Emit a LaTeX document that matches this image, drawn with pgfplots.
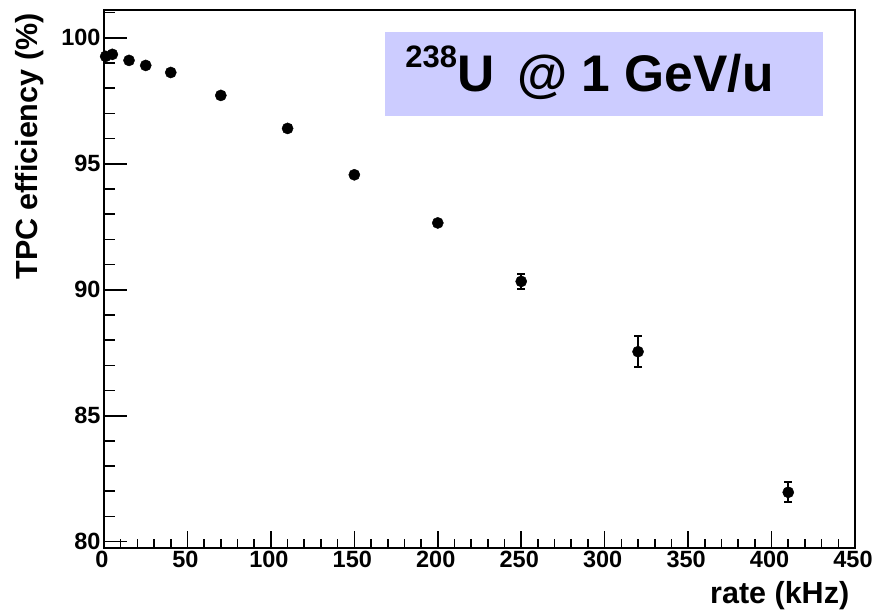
\documentclass[border=0pt]{standalone}
\usepackage{fontspec}
\setmainfont{Liberation Sans}
\usepackage{pgfplots}
\pgfplotsset{compat=1.18}
\definecolor{boxblue}{HTML}{CCCCFF}

% TPC efficiency versus rate: x, y, y-error
\pgfplotstableread{
x    y      ey
1    99.26  0.05
5    99.34  0.05
15   99.10  0.05
25   98.90  0.05
40   98.62  0.05
70   97.71  0.05
110  96.40  0.05
150  94.56  0.08
200  92.65  0.10
250  90.33  0.30
320  87.54  0.62
410  81.96  0.40
}\efftable

\pgfplotsset{
  rootframe/.style={
    at={(0,0)}, anchor=south west,
    scale only axis, width=751pt, height=538pt,
    xmin=0, xmax=450, ymin=79.75, ymax=101.1,
    axis line style={black, line width=1.5pt},
    tick align=inside,
    every tick/.style={black, line width=1.6pt},
    /pgf/number format/assume math mode=true,
    ticklabel style={font=\fontsize{23.5}{27}\selectfont\bfseries},
  },
}

\begin{document}
\begin{tikzpicture}
\useasboundingbox (-104pt,-67pt) rectangle (769pt,548pt);

% y ticks (longer ticks, as for the shorter axis)
\begin{axis}[rootframe,
  xtick=\empty,
  ytick={80,85,90,95,100},
  minor ytick={80,81,...,101},
  ytick pos=left,
  major tick length=22.5pt, minor tick length=11pt,
]
\end{axis}

% x ticks, data and labels
\begin{axis}[rootframe,
  ytick=\empty,
  xtick={0,50,...,450},
  minor xtick={0,10,...,450},
  xtick pos=bottom,
  xticklabel style={xshift=-2pt},
  major tick length=17pt, minor tick length=9pt,
  xlabel={rate (kHz)},
  xlabel style={at={(axis description cs:0.997,-0.104)}, anchor=base east,
    font=\fontsize{30.5}{34}\selectfont\bfseries},
  ylabel={TPC efficiency (\%)},
  ylabel style={at={(axis description cs:-0.0892,1)}, anchor=base east,
    font=\fontsize{30.5}{34}\selectfont\bfseries},
  clip=false,
]
\fill[boxblue] (rel axis cs:0.374,0.803) rectangle (rel axis cs:0.957,0.959);
\node[anchor=base west, inner sep=0pt, font=\fontsize{51.5}{56}\selectfont\bfseries]
  at (rel axis cs:0.401,0.8476)
  {\raisebox{0.48em}{\fontsize{31}{34}\selectfont\bfseries 238}U\hspace{0.45em}@ 1 GeV/u};

\addplot[only marks, black, mark=*, mark size=5.6pt,
  error bars/.cd, y dir=both, y explicit,
  error bar style={line width=1.8pt, black},
  error mark options={rotate=90, mark size=4pt, line width=1.8pt, black}]
  table[x=x, y=y, y error=ey] {\efftable};
\end{axis}
\end{tikzpicture}
\end{document}
